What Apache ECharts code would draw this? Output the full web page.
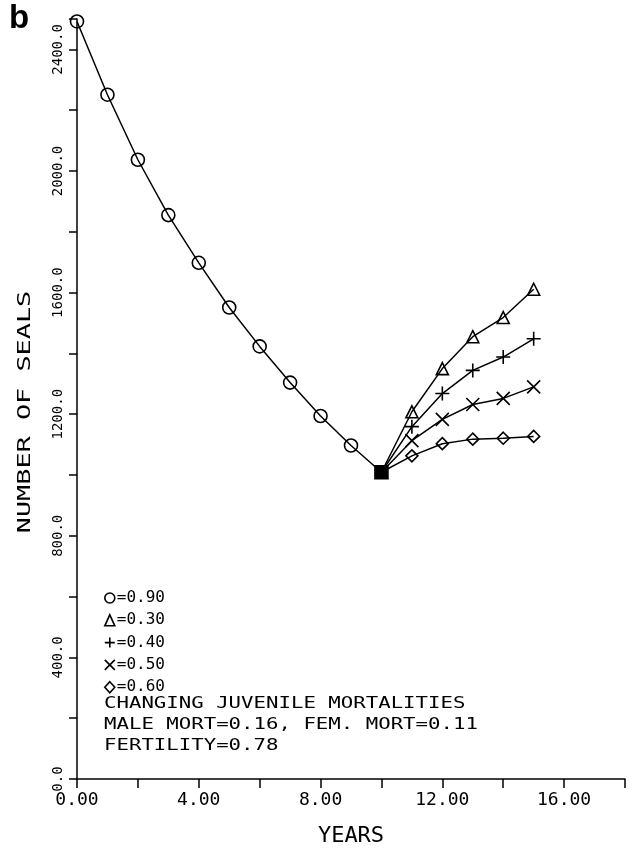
<!DOCTYPE html>
<html>
<head>
<meta charset="utf-8">
<script src="https://cdn.jsdelivr.net/npm/echarts@6/dist/echarts.min.js"></script>
<style>
  html, body { margin: 0; padding: 0; background: #fff; }
  #chart { width: 632px; height: 852px; }
</style>
</head>
<body>
<div id="chart"></div>
<script>
// Seal population, juvenile mortality 0.90 for years 0-10, then branches
const years = [0, 1, 2, 3, 4, 5, 6, 7, 8, 9, 10];
const juv90 = [2492, 2251, 2037, 1855, 1698, 1551, 1423, 1304, 1194, 1097, 1009];

const branchYears = [10, 11, 12, 13, 14, 15];
const juv30 = [1009, 1208, 1350, 1455, 1518, 1611];
const juv40 = [1009, 1159, 1268, 1344, 1388, 1448];
const juv50 = [1009, 1113, 1183, 1232, 1252, 1290];
const juv60 = [1009, 1063, 1103, 1118, 1121, 1127];

const noteLines = [
  "CHANGING JUVENILE MORTALITIES",
  "MALE MORT=0.16, FEM. MORT=0.11",
  "FERTILITY=0.78",
];

const MONO = '"DejaVu Sans Mono"';
const PLUS = "path://M5,0V10M0,5H10";
const CROSS = "path://M0,0L10,10M10,0L0,10";

const hollow = { color: "rgba(0,0,0,0)", borderColor: "#000", borderWidth: 1.6 };

function branch(name, values, symbol, size) {
  return {
    name,
    type: "line",
    symbol,
    symbolSize: size,
    itemStyle: hollow,
    lineStyle: { color: "#000", width: 1.5 },
    // first point is the shared junction (drawn by the base series)
    data: branchYears.map((x, i) => i === 0 ? { value: [x, values[i]], symbol: "none" } : [x, values[i]]),
    z: 2,
  };
}

const chart = echarts.init(document.getElementById("chart"));

chart.setOption({
  backgroundColor: "#fff",
  animation: false,
  grid: { left: 77, right: 7, top: 19, bottom: 67 },
  xAxis: {
    type: "value",
    min: 0, max: 18, interval: 2,
    name: "YEARS",
    nameLocation: "middle",
    nameGap: 46,
    nameTextStyle: { fontFamily: MONO, fontSize: 22, color: "#000" },
    axisLine: { lineStyle: { color: "#000", width: 1.5 } },
    axisTick: { inside: false, length: 9, lineStyle: { color: "#000", width: 1.5 } },
    axisLabel: {
      margin: 12,
      fontFamily: MONO, fontSize: 18, color: "#000",
      formatter: v => v % 4 === 0 ? v.toFixed(2) : "",
    },
    splitLine: { show: false },
  },
  yAxis: {
    type: "value",
    min: 0, max: 2500, interval: 200,
    axisLine: { show: true, lineStyle: { color: "#000", width: 1.5 } },
    axisTick: { show: true, length: 8, lineStyle: { color: "#000", width: 1.5 } },
    axisLabel: {
      rotate: 90,
      margin: 12,
      fontFamily: MONO, fontSize: 14, color: "#000",
      formatter: v => v % 400 === 0 ? v.toFixed(1) : "",
    },
    splitLine: { show: false },
  },
  legend: {
    orient: "vertical",
    left: 99,
    top: 585,
    itemWidth: 10,
    itemHeight: 11,
    itemGap: 6.3,
    selectedMode: false,
    itemStyle: { color: "rgba(0,0,0,0)", borderColor: "#000", borderWidth: 1.6 },
    textStyle: { fontFamily: MONO, fontSize: 16, color: "#000", lineHeight: 15, padding: [0, 0, 0, -3] },
    formatter: name => "=" + name,
    data: [
      { name: "0.90", icon: "circle" },
      { name: "0.30", icon: "triangle" },
      { name: "0.40", icon: PLUS },
      { name: "0.50", icon: CROSS },
      { name: "0.60", icon: "diamond" },
    ],
  },
  series: [
    branch("0.30", juv30, "triangle", 12),
    branch("0.40", juv40, PLUS, 14),
    branch("0.50", juv50, CROSS, 13),
    branch("0.60", juv60, "diamond", 12),
    {
      name: "0.90",
      type: "line",
      symbol: "circle",
      symbolSize: 13,
      itemStyle: hollow,
      lineStyle: { color: "#000", width: 1.5 },
      data: years.map((x, i) => i === years.length - 1
        ? { value: [x, juv90[i]], symbol: "rect", symbolSize: 13, itemStyle: { color: "#000", borderColor: "#000" } }
        : [x, juv90[i]]),
      z: 3,
    },
  ],
  graphic: [
    {
      type: "text", left: 9, top: 2,
      style: { text: "b", font: 'bold 33px "Liberation Sans"', fill: "#000" },
    },
    {
      type: "text", x: 26, y: 412, rotation: Math.PI / 2, scaleX: 1.58,
      style: {
        text: "NUMBER OF SEALS", font: "17px " + MONO, fill: "#000",
        align: "center", verticalAlign: "middle", textAlign: "center", textVerticalAlign: "middle",
      },
    },
    ...noteLines.map((t, i) => ({
      type: "text", x: 104, y: 704 + i * 21.3, scaleX: 1.38,
      style: {
        text: t, font: "15px " + MONO, fill: "#000",
        align: "left", verticalAlign: "middle", textAlign: "left", textVerticalAlign: "middle",
      },
    })),
  ],
});
</script>
</body>
</html>
